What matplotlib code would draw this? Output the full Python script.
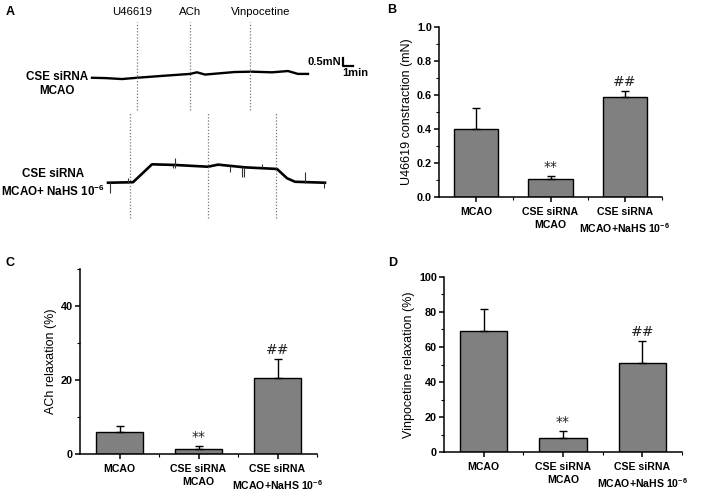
import numpy as np
import matplotlib
matplotlib.use("Agg")
import matplotlib.pyplot as plt
from matplotlib.ticker import MultipleLocator, FixedLocator, FormatStrFormatter

plt.rcParams['font.family'] = ['Liberation Sans', 'DejaVu Sans']
plt.rcParams['mathtext.fontset'] = 'custom'
plt.rcParams['mathtext.rm'] = 'Liberation Sans:bold'
plt.rcParams['mathtext.bf'] = 'Liberation Sans:bold'
plt.rcParams['mathtext.default'] = 'bf'

# ---- data ----
groups = ['MCAO', 'CSE siRNA\nMCAO', 'CSE siRNA\nMCAO+NaHS 10$^{-6}$']
marks = ['', '**', '##']

u46619_mean = [0.40, 0.106, 0.586]
u46619_err = [0.122, 0.019, 0.036]

ach_mean = [5.9, 1.35, 20.5]
ach_err = [1.7, 0.85, 5.2]

vinpo_mean = [69.3, 8.2, 50.7]
vinpo_err = [12.4, 3.8, 12.6]

# representative traces (time in min, tension in mN above baseline)
top_t = [9.2, 10.5, 12.2, 13.7, 16.5, 19.0, 19.7, 20.5, 23.5, 25.2, 27.2, 28.8, 29.8, 30.8]
top_f = [0.04, 0.02, -0.04, 0.04, 0.17, 0.28, 0.38, 0.24, 0.40, 0.42, 0.38, 0.46, 0.28, 0.28]
top_events = [13.7, 19.0, 25.0]

bot_t = [10.8, 13.3, 15.2, 17.5, 20.8, 21.8, 24.5, 27.7, 28.7, 29.5, 32.5]
bot_f = [0.0, 0.03, 1.15, 1.11, 1.0, 1.13, 0.96, 0.86, 0.28, 0.06, 0.0]
bot_events = [13.0, 20.8, 27.6]

spike_t = [11.0, 12.8, 17.3, 17.5, 22.0, 23.0, 24.2, 24.4, 26.2, 30.5, 32.4]
spike_lo = [-0.64, 0.0, 0.92, 0.92, 1.10, 0.67, 0.34, 0.36, 0.92, -0.02, -0.33]
spike_hi = [0.02, 0.29, 1.10, 1.54, 1.23, 1.04, 0.98, 0.98, 1.17, 0.67, 0.05]

drugs = ['U46619', 'ACh', 'Vinpocetine']

fig = plt.figure(figsize=(7.04, 4.94), dpi=100)
W, H = 704.0, 494.0

# ---- panel A ----
axA = fig.add_axes([0, 1 - 240 / H, 360 / W, 240 / H])
axA.set_xlim(0, 36)
axA.set_ylim(0, 15)
axA.axis('off')

top_base = 10.1
bot_base = 3.58
axA.plot(top_t, np.array(top_f) + top_base, color='black', lw=1.7)
axA.plot(bot_t, np.array(bot_f) + bot_base, color='black', lw=1.9)
axA.vlines(spike_t, np.array(spike_lo) + bot_base, np.array(spike_hi) + bot_base,
           color='#333333', lw=0.8)
axA.vlines(top_events, 8.1, 13.6, color='#777777', lw=0.9, linestyles=(0, (1, 1.5)))
axA.vlines(bot_events, 1.4, 8.0, color='#777777', lw=0.9, linestyles=(0, (1, 1.5)))
for x, name in zip([13.2, 19.0, 26.1], drugs):
    axA.text(x, 14.25, name, ha='center', va='center', fontsize=8.2)

axA.text(5.7, 9.75, 'CSE siRNA\nMCAO', ha='center', va='center',
         fontsize=8.4, fontweight='bold', linespacing=1.3)
axA.text(5.3, 3.55, 'CSE siRNA\nMCAO+ NaHS 10$^{-6}$', ha='center', va='center',
         fontsize=8.4, fontweight='bold', linespacing=1.3)

# scale bar: 0.5 mN, 1 min
axA.plot([34.3, 34.3, 35.3], [11.375, 10.875, 10.875], color='black', lw=1.6)
axA.text(34.1, 11.15, '0.5mN', ha='right', va='center', fontsize=8, fontweight='bold')
axA.text(34.2, 10.45, '1min', ha='left', va='center', fontsize=8, fontweight='bold')


def bar_panel(rect, means, errs, ylim, major, ylabel, fmt):
    ax = fig.add_axes(rect)
    x = np.arange(len(means))
    ax.bar(x, means, width=0.6, color='#808080', edgecolor='black', linewidth=1.0)
    ax.errorbar(x, means, yerr=[np.zeros(len(errs)), errs], fmt='none',
                ecolor='black', elinewidth=1.0, capsize=3, capthick=1.0)
    for xi, m, e, s in zip(x, means, errs, marks):
        if s:
            ax.annotate(s, (xi, m + e), xytext=(0, 1.5), textcoords='offset points',
                        ha='center', va='bottom', fontsize=10, family='DejaVu Sans',
                        color='#222222')
    ax.set_xlim(-0.5, 2.5)
    ax.set_ylim(*ylim)
    ax.set_xticks(x)
    ax.set_xticklabels(groups, fontsize=7.6, fontweight='bold', linespacing=1.3)
    ax.xaxis.set_minor_locator(FixedLocator([0.5, 1.5, 2.5]))
    ax.yaxis.set_major_locator(MultipleLocator(major))
    ax.yaxis.set_minor_locator(MultipleLocator(major / 2))
    ax.yaxis.set_major_formatter(fmt)
    for lab in ax.get_yticklabels():
        lab.set_fontweight('bold')
        lab.set_fontsize(7.8)
    ax.tick_params(axis='both', which='major', direction='out', length=3.5, width=1.1)
    ax.tick_params(axis='both', which='minor', direction='out', length=2, width=0.8)
    ax.tick_params(axis='x', pad=4)
    ax.tick_params(axis='y', pad=1.5)
    ax.spines['top'].set_visible(False)
    ax.spines['right'].set_visible(False)
    ax.spines['left'].set_linewidth(1.1)
    ax.spines['bottom'].set_linewidth(1.1)
    ax.set_ylabel(ylabel, fontsize=9, labelpad=3)
    return ax


bar_panel([439 / W, 1 - 197 / H, 223 / W, 170 / H], u46619_mean, u46619_err,
          (0, 1.0), 0.2, 'U46619 constraction (mN)', FormatStrFormatter('%.1f'))
bar_panel([80 / W, 1 - 454 / H, 237 / W, 185 / H], ach_mean, ach_err,
          (0, 50), 20, 'ACh relaxation (%)', FormatStrFormatter('%d'))
bar_panel([444 / W, 1 - 452 / H, 238 / W, 175 / H], vinpo_mean, vinpo_err,
          (0, 100), 20, 'Vinpocetine relaxation (%)', FormatStrFormatter('%d'))

# panel letters
for lx, ly, letter in [(10, 12, 'A'), (392, 10, 'B'), (10, 263, 'C'), (393, 263, 'D')]:
    fig.text(lx / W, 1 - ly / H, letter, ha='center', va='center',
             fontsize=9, fontweight='bold')

fig.savefig('out.png', dpi=100)
